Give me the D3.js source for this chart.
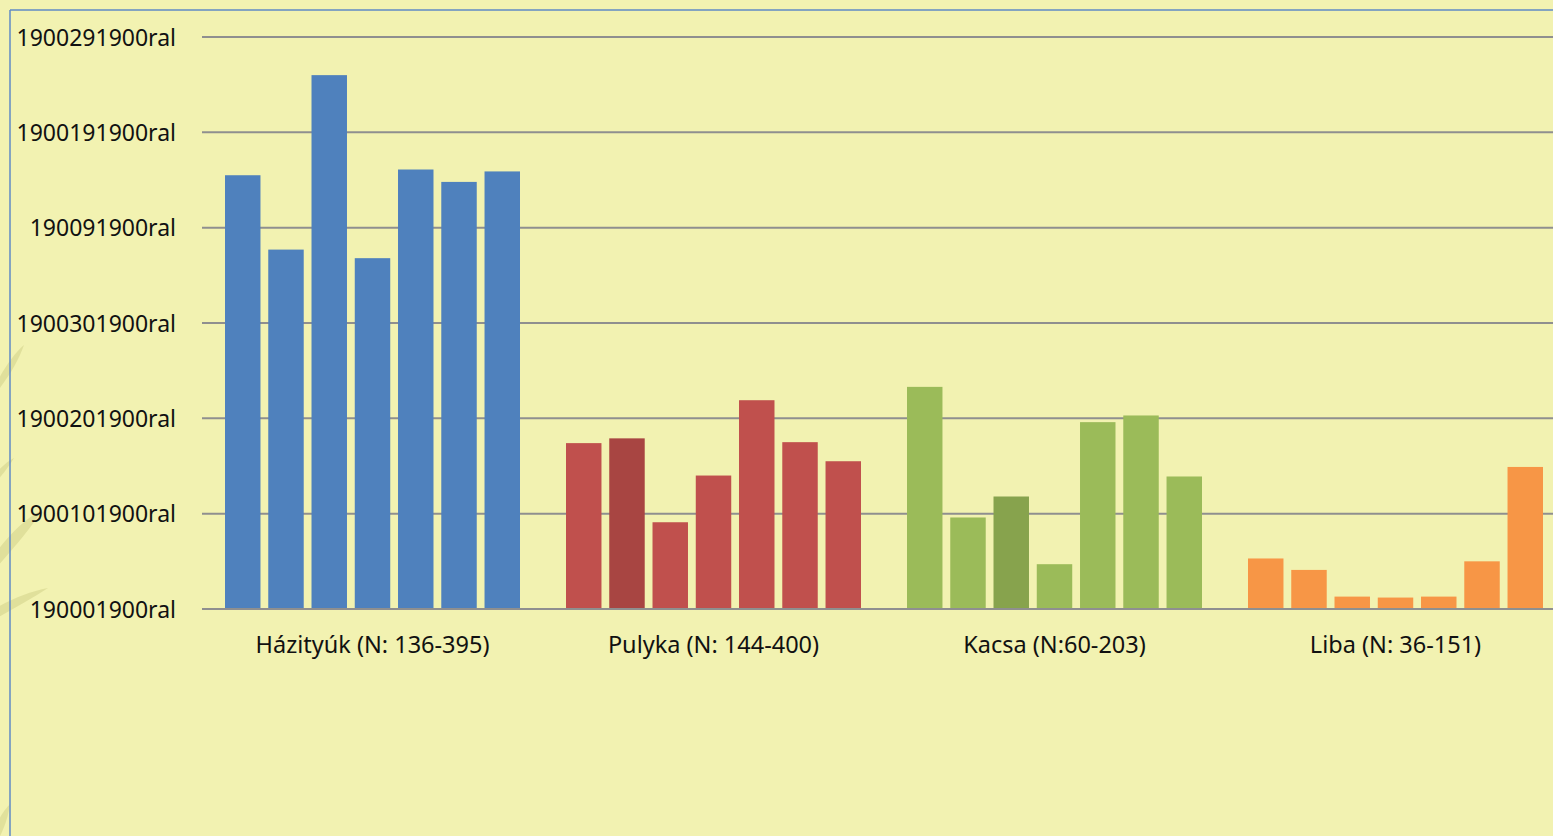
<!DOCTYPE html>
<html>
<head>
<meta charset="utf-8">
<script src="https://cdn.jsdelivr.net/npm/d3@7"></script>
<style>
    html, body { margin: 0; padding: 0; background: #f2f2b1; overflow: hidden; }
    svg { display: block; }
    text { font-family: "Noto Sans", "Open Sans", sans-serif; fill: #111; }
</style>
</head>
<body>
<script>
// categories (x axis groups)
var categories = ["Házityúk (N: 136-395)", "Pulyka (N: 144-400)", "Kacsa (N:60-203)", "Liba (N: 36-151)"];

// seven bars per group (axis units)
var hazityuk = [4.55, 3.77, 5.60, 3.68, 4.61, 4.48, 4.59];
var pulyka   = [1.74, 1.79, 0.91, 1.40, 2.19, 1.75, 1.55];
var kacsa    = [2.33, 0.96, 1.18, 0.47, 1.96, 2.03, 1.39];
var liba     = [0.53, 0.41, 0.13, 0.12, 0.13, 0.50, 1.49];

// y tick values and the (odd) labels shown on the axis
var yTicks = [0, 1, 2, 3, 4, 5, 6];
var yTickLabels = ["190001900ral", "1900101900ral", "1900201900ral", "1900301900ral",
                   "190091900ral", "1900191900ral", "1900291900ral"];

// bar that is drawn in a darker shade within each group (-1 = none)
var darkBar = [-1, 1, 2, -1];

var seriesValues = [hazityuk, pulyka, kacsa, liba];
var groupColour = ["#4f81bd", "#c0504d", "#9bbb59", "#f79646"];
var groupDark = ["#4f81bd", "#a84542", "#87a34d", "#f79646"];

var width = 1553, height = 836;

var svg = d3.select("body").append("svg")
    .attr("width", width)
    .attr("height", height);

// faint leaf decoration on the left
var leaves = svg.append("g").attr("fill", "#dcdc96").attr("opacity", 0.8);
leaves.append("path").attr("d", "M-10,395 C0,375 12,355 24,345 C18,362 6,382 -10,400 Z");
leaves.append("path").attr("d", "M-10,560 C5,540 22,520 42,510 C30,530 10,552 -10,575 Z");
leaves.append("path").attr("d", "M-10,612 C8,600 28,592 48,588 C30,600 10,610 -10,622 Z");
leaves.append("path").attr("d", "M-10,480 C-2,470 6,462 14,458 C8,468 0,478 -10,488 Z");
leaves.append("path").attr("d", "M-10,836 C-2,820 4,810 10,804 C8,818 4,828 0,836 Z");

// chart frame (top and left edge visible)
svg.append("line").attr("x1", 10).attr("x2", width).attr("y1", 10).attr("y2", 10)
    .attr("stroke", "#5f8ac6").attr("stroke-width", 1.5);
svg.append("line").attr("x1", 10).attr("x2", 10).attr("y1", 10).attr("y2", height)
    .attr("stroke", "#5f8ac6").attr("stroke-width", 1.5);

var plotLeft = 202, plotRight = 1566, plotTop = 37, plotBottom = 609;

var y = d3.scaleLinear().domain([0, 6]).range([plotBottom, plotTop]);

var x0 = d3.scaleBand().domain(categories).range([plotLeft, plotRight]);
var x1 = d3.scaleBand().domain(d3.range(7))
    .range([23, x0.bandwidth() - 23])
    .paddingInner(0.18);

// gridlines
svg.append("g").attr("class", "grid")
    .selectAll("line").data(yTicks).enter().append("line")
    .attr("x1", plotLeft).attr("x2", width)
    .attr("y1", function(d) { return y(d); })
    .attr("y2", function(d) { return y(d); })
    .attr("stroke", "#8f8f8f")
    .attr("stroke-width", 2);

// y axis labels
var yAxis = d3.axisLeft(y).tickValues(yTicks).tickSize(0)
    .tickFormat(function(d, i) { return yTickLabels[i]; });
var yg = svg.append("g").attr("transform", "translate(" + 176 + ",0)").call(yAxis);
yg.select(".domain").remove();
yg.selectAll("text").attr("font-size", 23).attr("x", 0).attr("dy", "0.35em")
    .style("font-family", "Noto Sans").attr("fill", "#111");

// bars
var group = svg.selectAll(".group").data(categories).enter().append("g")
    .attr("class", "group")
    .attr("transform", function(d) { return "translate(" + x0(d) + ",0)"; });

group.selectAll("rect").data(function(d, gi) {
        return seriesValues[gi].map(function(v, i) { return { v: v, i: i, g: gi }; });
    })
    .enter().append("rect")
    .attr("x", function(d) { return x1(d.i); })
    .attr("width", x1.bandwidth())
    .attr("y", function(d) { return y(d.v); })
    .attr("height", function(d) { return y(0) - y(d.v) - 1; })
    .attr("fill", function(d) { return d.i === darkBar[d.g] ? groupDark[d.g] : groupColour[d.g]; });

// x axis labels
var xAxis = d3.axisBottom(x0).tickSize(0);
var xg = svg.append("g").attr("transform", "translate(0," + plotBottom + ")").call(xAxis);
xg.select(".domain").remove();
xg.selectAll("text").attr("font-size", 23.5).attr("y", 44).attr("dy", 0)
    .style("font-family", "Noto Sans").attr("fill", "#111");
</script>
</body>
</html>
